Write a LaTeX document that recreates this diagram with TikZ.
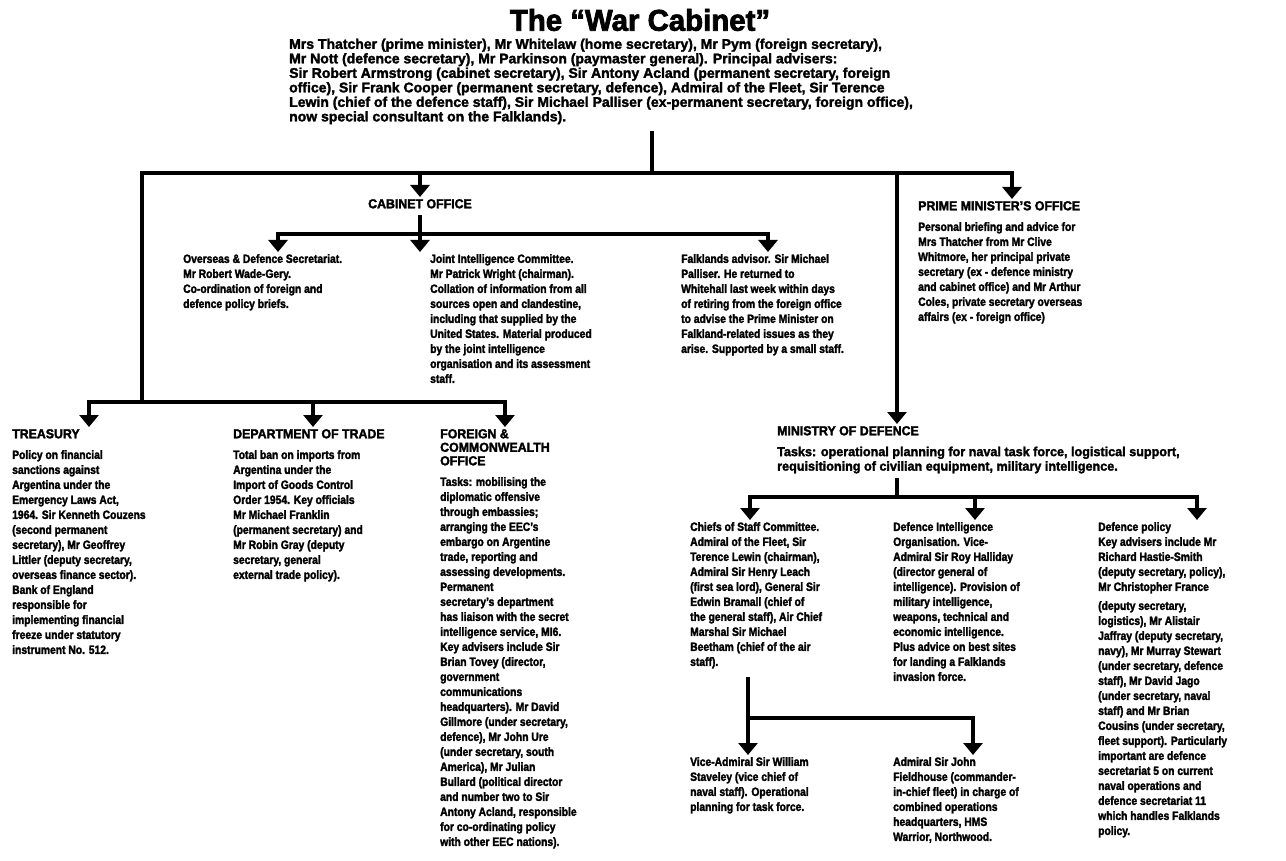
\documentclass[tikz,border=0pt]{standalone}
\usepackage{fontspec}
\setmainfont{Liberation Sans}
\newfontfamily\fcol{Liberation Sans}[FakeStretch=0.86,BoldFeatures={FakeBold=2.2}]
\newfontfamily\fhead{Liberation Sans}[FakeStretch=0.95,BoldFeatures={FakeBold=2.2}]
\newfontfamily\fbody{Liberation Sans}[FakeStretch=1.0,BoldFeatures={FakeBold=2}]
\newfontfamily\fmod{Liberation Sans}[FakeStretch=0.97,BoldFeatures={FakeBold=2}]
\newfontfamily\ftitle{Liberation Sans}[FakeStretch=0.98,BoldFeatures={FakeBold=2.5}]
\usetikzlibrary{arrows.meta}
\begin{document}
\begin{tikzpicture}[x=1pt,y=-1pt,
  conn/.style={line width=3.8pt,line join=miter},
  arr/.style={conn,-{Triangle[width=19pt,length=12pt]},shorten >=2pt},
  txt/.style={anchor=north west,align=left,inner sep=0pt,font=\fcol\fontsize{12}{15}\selectfont\bfseries},
  btxt/.style={anchor=north west,align=left,inner sep=0pt,font=\fbody\fontsize{14}{14.5}\selectfont\bfseries},
  mtxt/.style={anchor=north west,align=left,inner sep=0pt,font=\fmod\fontsize{13}{14.5}\selectfont\bfseries},
  head/.style={anchor=north west,align=left,inner sep=0pt,font=\fhead\fontsize{13}{13.5}\selectfont\bfseries},
  bighead/.style={head,anchor=north}]
\useasboundingbox[fill=white] (0,0) rectangle (1286,861);
% title
\node[inner sep=0pt,font=\ftitle\fontsize{30}{32}\selectfont\bfseries] (title) at (640,20) {The “War Cabinet”};
\node[btxt] (body) at (289,38.5) {Mrs Thatcher (prime minister), Mr Whitelaw (home secretary), Mr Pym (foreign secretary),\\
Mr Nott (defence secretary), Mr Parkinson (paymaster general). Principal advisers:\\
Sir Robert Armstrong (cabinet secretary), Sir Antony Acland (permanent secretary, foreign\\
office), Sir Frank Cooper (permanent secretary, defence), Admiral of the Fleet, Sir Terence\\
Lewin (chief of the defence staff), Sir Michael Palliser (ex-permanent secretary, foreign office),\\
now special consultant on the Falklands).};
% cabinet office
\node[bighead] (cab) at (420,199) {CABINET OFFICE};
\node[txt] (ovs) at (183,254) {Overseas \& Defence Secretariat.\\
Mr Robert Wade-Gery.\\
Co-ordination of foreign and\\
defence policy briefs.};
\node[txt] (jic) at (430,254) {Joint Intelligence Committee.\\
Mr Patrick Wright (chairman).\\
Collation of information from all\\
sources open and clandestine,\\
including that supplied by the\\
United States. Material produced\\
by the joint intelligence\\
organisation and its assessment\\
staff.};
\node[txt] (fal) at (681,254) {Falklands advisor. Sir Michael\\
Palliser. He returned to\\
Whitehall last week within days\\
of retiring from the foreign office\\
to advise the Prime Minister on\\
Falkland-related issues as they\\
arise. Supported by a small staff.};
% PM office
\node[head] (pmh) at (918,201) {PRIME MINISTER’S OFFICE};
\node[txt] (pm) at (918,222) {Personal briefing and advice for\\
Mrs Thatcher from Mr Clive\\
Whitmore, her principal private\\
secretary (ex - defence ministry\\
and cabinet office) and Mr Arthur\\
Coles, private secretary overseas\\
affairs (ex - foreign office)};
% departments
\node[head] (treh) at (12,429) {TREASURY};
\node[txt] (tre) at (12,450) {Policy on financial\\
sanctions against\\
Argentina under the\\
Emergency Laws Act,\\
1964. Sir Kenneth Couzens\\
(second permanent\\
secretary), Mr Geoffrey\\
Littler (deputy secretary,\\
overseas finance sector).\\
Bank of England\\
responsible for\\
implementing financial\\
freeze under statutory\\
instrument No. 512.};
\node[head] (trdh) at (233,429) {DEPARTMENT OF TRADE};
\node[txt] (trd) at (233,450) {Total ban on imports from\\
Argentina under the\\
Import of Goods Control\\
Order 1954. Key officials\\
Mr Michael Franklin\\
(permanent secretary) and\\
Mr Robin Gray (deputy\\
secretary, general\\
external trade policy).};
\node[head] (fcoh) at (440,429) {FOREIGN \&\\COMMONWEALTH\\OFFICE};
\node[txt] (fco) at (440,477) {Tasks: mobilising the\\
diplomatic offensive\\
through embassies;\\
arranging the EEC’s\\
embargo on Argentine\\
trade, reporting and\\
assessing developments.\\
Permanent\\
secretary’s department\\
has liaison with the secret\\
intelligence service, MI6.\\
Key advisers include Sir\\
Brian Tovey (director,\\
government\\
communications\\
headquarters). Mr David\\
Gillmore (under secretary,\\
defence), Mr John Ure\\
(under secretary, south\\
America), Mr Julian\\
Bullard (political director\\
and number two to Sir\\
Antony Acland, responsible\\
for co-ordinating policy\\
with other EEC nations).};
% MoD
\node[head] (modh) at (777,426) {MINISTRY OF DEFENCE};
\node[mtxt] (mod) at (777,446.5) {Tasks: operational planning for naval task force, logistical support,\\
requisitioning of civilian equipment, military intelligence.};
\node[txt] (cos) at (690,522) {Chiefs of Staff Committee.\\
Admiral of the Fleet, Sir\\
Terence Lewin (chairman),\\
Admiral Sir Henry Leach\\
(first sea lord), General Sir\\
Edwin Bramall (chief of\\
the general staff), Air Chief\\
Marshal Sir Michael\\
Beetham (chief of the air\\
staff).};
\node[txt] (dio) at (893,522) {Defence Intelligence\\
Organisation. Vice-\\
Admiral Sir Roy Halliday\\
(director general of\\
intelligence). Provision of\\
military intelligence,\\
weapons, technical and\\
economic intelligence.\\
Plus advice on best sites\\
for landing a Falklands\\
invasion force.};
\node[txt] (dpo) at (1098,522) {Defence policy\\
Key advisers include Mr\\
Richard Hastie-Smith\\
(deputy secretary, policy),\\
Mr Christopher France\\[4pt]
(deputy secretary,\\
logistics), Mr Alistair\\
Jaffray (deputy secretary,\\
navy), Mr Murray Stewart\\
(under secretary, defence\\
staff), Mr David Jago\\
(under secretary, naval\\
staff) and Mr Brian\\
Cousins (under secretary,\\
fleet support). Particularly\\
important are defence\\
secretariat 5 on current\\
naval operations and\\
defence secretariat 11\\
which handles Falklands\\
policy.};
\node[txt] (vad) at (690,757) {Vice-Admiral Sir William\\
Staveley (vice chief of\\
naval staff). Operational\\
planning for task force.};
\node[txt] (adm) at (893,757) {Admiral Sir John\\
Fieldhouse (commander-\\
in-chief fleet) in charge of\\
combined operations\\
headquarters, HMS\\
Warrior, Northwood.};
% junctions
\coordinate (tTop) at (652,131);
\coordinate (tJ) at (652,173);
\coordinate (hL) at (142,173);
\coordinate (hR) at (1012,173);
\coordinate (hCab) at (420,173);
\coordinate (hMod) at (897,173);
\coordinate (lL) at (142,402);
\coordinate (lT) at (89,402);
\coordinate (lD) at (313,402);
\coordinate (lF) at (505,402);
\coordinate (cTop) at (420,215);
\coordinate (cJ) at (420,234);
\coordinate (cO) at (278,234);
\coordinate (cF) at (768,234);
\coordinate (mTop) at (897,478);
\coordinate (mJ) at (897,497);
\coordinate (mC) at (750,497);
\coordinate (mD) at (975,497);
\coordinate (mP) at (1197,497);
\coordinate (sTop) at (748,677);
\coordinate (sJ) at (748,718);
\coordinate (sA) at (973,718);
% connectors
\draw[conn] (tTop) -- (tJ);
\draw[arr] (tJ) -- (hL) -- (lL) -- (lT) -- (lT |- treh.north);
\draw[arr] (tJ) -- (hR) -- (hR |- pmh.north);
\draw[arr] (hCab) -- (cab.north);
\draw[arr] (hMod) -- (hMod |- modh.north);
\draw[arr] (lL) -- (lF) -- (lF |- fcoh.north);
\draw[arr] (lD) -- (lD |- trdh.north);
\draw[conn] (cTop) -- (cJ);
\draw[arr] (cJ) -- (cO) -- (cO |- ovs.north);
\draw[arr] (cJ) -- (cF) -- (cF |- fal.north);
\draw[arr] (cJ) -- (cJ |- jic.north);
\draw[conn] (mTop) -- (mJ);
\draw[arr] (mJ) -- (mC) -- (mC |- cos.north);
\draw[arr] (mJ) -- (mP) -- (mP |- dpo.north);
\draw[arr] (mD) -- (mD |- dio.north);
\draw[conn] (sTop) -- (sJ);
\draw[arr] (sJ) -- (sJ |- vad.north);
\draw[arr] (sJ) -- (sA) -- (sA |- adm.north);
\end{tikzpicture}
\end{document}
